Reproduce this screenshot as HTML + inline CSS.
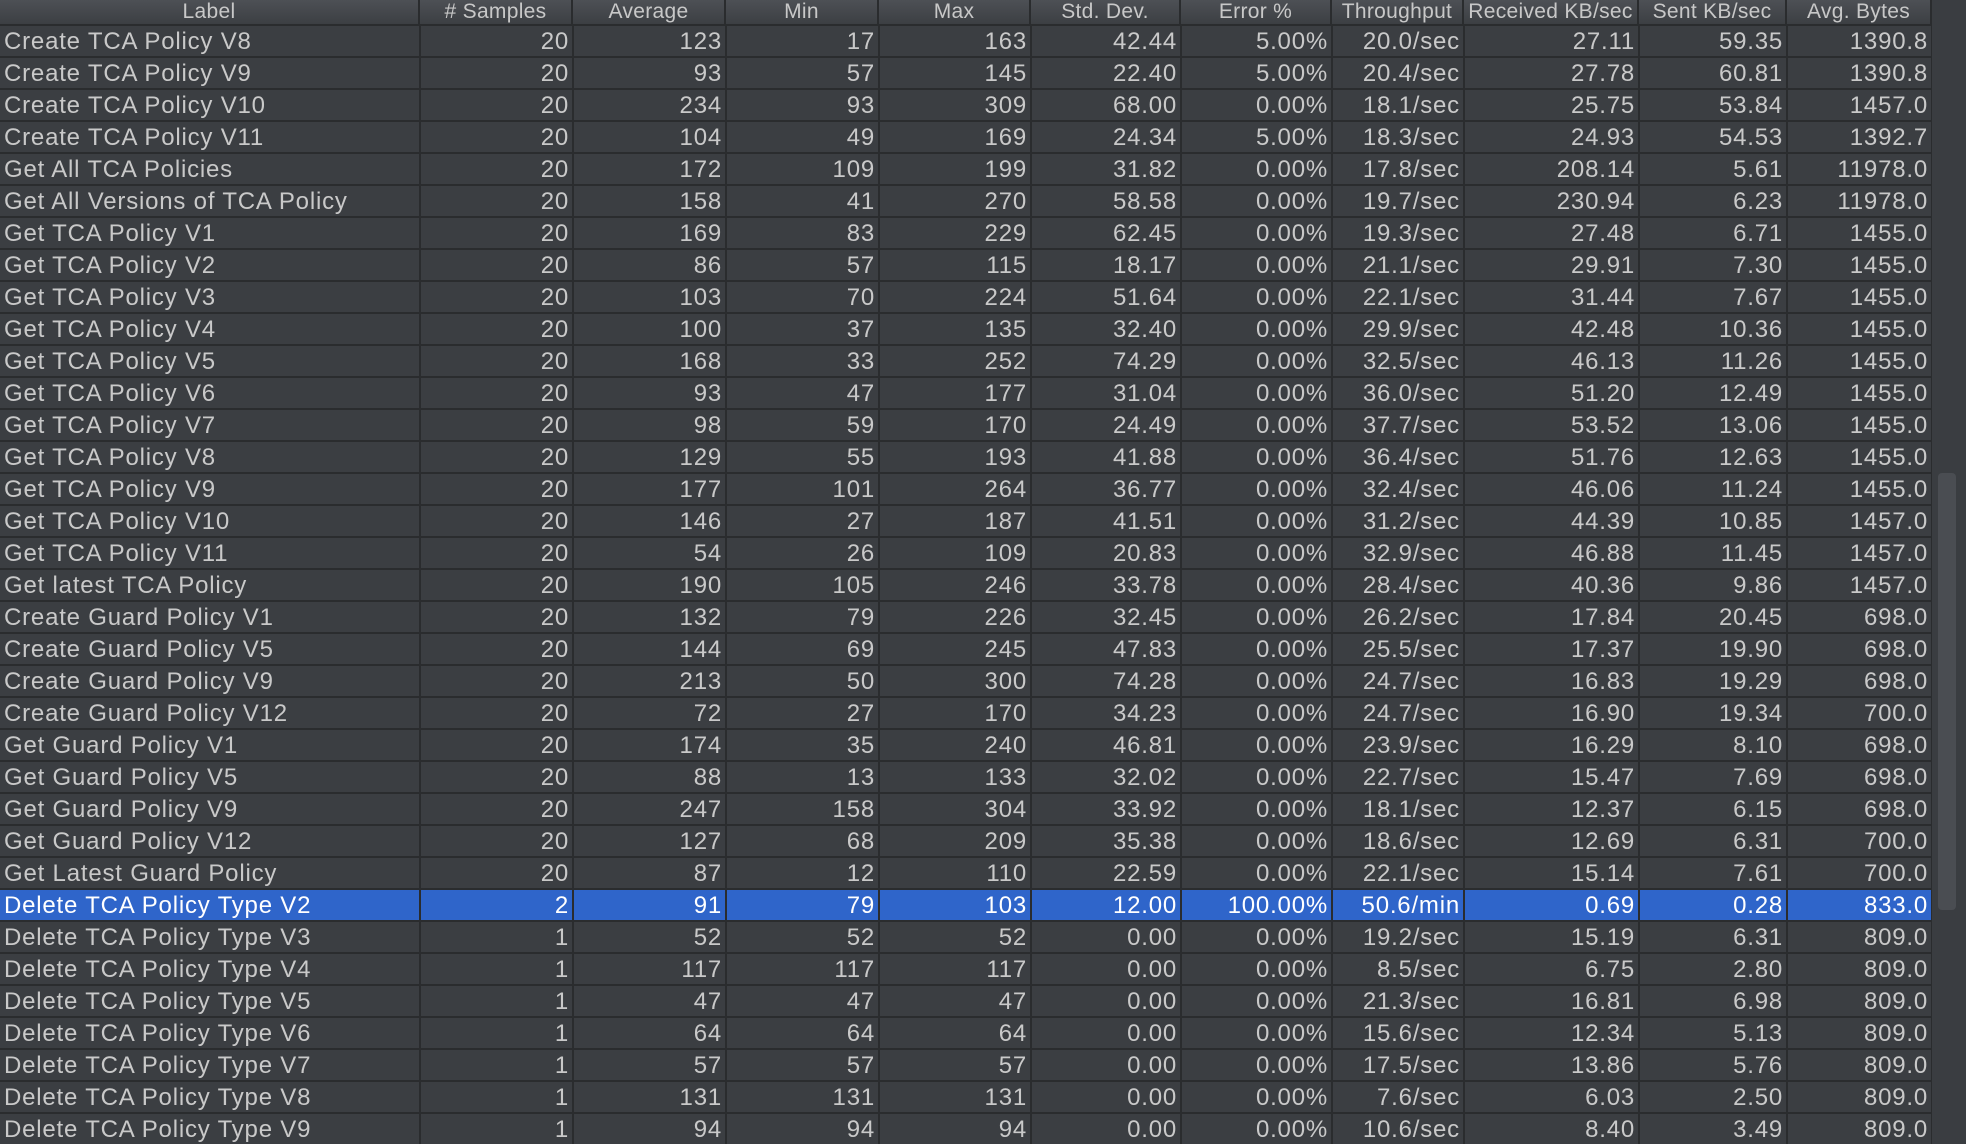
<!DOCTYPE html>
<html><head><meta charset="utf-8"><style>
html,body{margin:0;padding:0;width:1966px;height:1144px;overflow:hidden;background:#2b2d30;font-family:"Liberation Sans",sans-serif;}
#tbl{position:absolute;left:0;top:0;width:1932px;height:1144px;background:#2a2c2e;}
.h{position:absolute;top:0;height:24px;background:linear-gradient(#4d5055,#3c3f43);color:#c8c8c8;font-size:21px;line-height:24px;text-align:center;border-right:2px solid #2a2c2e;box-sizing:border-box;overflow:hidden;white-space:nowrap;letter-spacing:0.3px;}
.c{position:absolute;height:30px;background:#3b3e42;color:#c9c9c9;font-size:24px;letter-spacing:0.8px;line-height:31px;box-sizing:border-box;white-space:nowrap;overflow:hidden;padding:0 3px 0 4px;}
.r{text-align:right}
.sel{background:#2f65ca;color:#fff}
#sb{position:absolute;left:1932px;top:0;width:34px;height:1144px;background:#3a3d41;}
#thumb{position:absolute;left:1938px;top:473px;width:18px;height:437px;background:#4a4d52;border-radius:4px;}
</style></head><body>
<div id="tbl"></div>
<div id="sb"></div>
<div id="thumb"></div>
<script>
const headers=["Label","# Samples","Average","Min","Max","Std. Dev.","Error %","Throughput","Received KB/sec","Sent KB/sec","Avg. Bytes"];
const labels=["Create TCA Policy V8","Create TCA Policy V9","Create TCA Policy V10","Create TCA Policy V11","Get All TCA Policies","Get All Versions of TCA Policy","Get TCA Policy V1","Get TCA Policy V2","Get TCA Policy V3","Get TCA Policy V4","Get TCA Policy V5","Get TCA Policy V6","Get TCA Policy V7","Get TCA Policy V8","Get TCA Policy V9","Get TCA Policy V10","Get TCA Policy V11","Get latest TCA Policy","Create Guard Policy V1","Create Guard Policy V5","Create Guard Policy V9","Create Guard Policy V12","Get Guard Policy V1","Get Guard Policy V5","Get Guard Policy V9","Get Guard Policy V12","Get Latest Guard Policy","Delete TCA Policy Type V2","Delete TCA Policy Type V3","Delete TCA Policy Type V4","Delete TCA Policy Type V5","Delete TCA Policy Type V6","Delete TCA Policy Type V7","Delete TCA Policy Type V8","Delete TCA Policy Type V9"];
const samples=[20,20,20,20,20,20,20,20,20,20,20,20,20,20,20,20,20,20,20,20,20,20,20,20,20,20,20,2,1,1,1,1,1,1,1];
const averages=[123,93,234,104,172,158,169,86,103,100,168,93,98,129,177,146,54,190,132,144,213,72,174,88,247,127,87,91,52,117,47,64,57,131,94];
const mins=[17,57,93,49,109,41,83,57,70,37,33,47,59,55,101,27,26,105,79,69,50,27,35,13,158,68,12,79,52,117,47,64,57,131,94];
const maxs=[163,145,309,169,199,270,229,115,224,135,252,177,170,193,264,187,109,246,226,245,300,170,240,133,304,209,110,103,52,117,47,64,57,131,94];
const stddevs=["42.44","22.40","68.00","24.34","31.82","58.58","62.45","18.17","51.64","32.40","74.29","31.04","24.49","41.88","36.77","41.51","20.83","33.78","32.45","47.83","74.28","34.23","46.81","32.02","33.92","35.38","22.59","12.00","0.00","0.00","0.00","0.00","0.00","0.00","0.00"];
const errors=["5.00%","5.00%","0.00%","5.00%","0.00%","0.00%","0.00%","0.00%","0.00%","0.00%","0.00%","0.00%","0.00%","0.00%","0.00%","0.00%","0.00%","0.00%","0.00%","0.00%","0.00%","0.00%","0.00%","0.00%","0.00%","0.00%","0.00%","100.00%","0.00%","0.00%","0.00%","0.00%","0.00%","0.00%","0.00%"];
const throughputs=["20.0/sec","20.4/sec","18.1/sec","18.3/sec","17.8/sec","19.7/sec","19.3/sec","21.1/sec","22.1/sec","29.9/sec","32.5/sec","36.0/sec","37.7/sec","36.4/sec","32.4/sec","31.2/sec","32.9/sec","28.4/sec","26.2/sec","25.5/sec","24.7/sec","24.7/sec","23.9/sec","22.7/sec","18.1/sec","18.6/sec","22.1/sec","50.6/min","19.2/sec","8.5/sec","21.3/sec","15.6/sec","17.5/sec","7.6/sec","10.6/sec"];
const received=["27.11","27.78","25.75","24.93","208.14","230.94","27.48","29.91","31.44","42.48","46.13","51.20","53.52","51.76","46.06","44.39","46.88","40.36","17.84","17.37","16.83","16.90","16.29","15.47","12.37","12.69","15.14","0.69","15.19","6.75","16.81","12.34","13.86","6.03","8.40"];
const sent=["59.35","60.81","53.84","54.53","5.61","6.23","6.71","7.30","7.67","10.36","11.26","12.49","13.06","12.63","11.24","10.85","11.45","9.86","20.45","19.90","19.29","19.34","8.10","7.69","6.15","6.31","7.61","0.28","6.31","2.80","6.98","5.13","5.76","2.50","3.49"];
const avgBytes=["1390.8","1390.8","1457.0","1392.7","11978.0","11978.0","1455.0","1455.0","1455.0","1455.0","1455.0","1455.0","1455.0","1455.0","1455.0","1457.0","1457.0","1457.0","698.0","698.0","698.0","700.0","698.0","698.0","698.0","700.0","700.0","833.0","809.0","809.0","809.0","809.0","809.0","809.0","809.0"];
const selectedRow=27;
const colEdges=[0,420,573,726,879,1031,1181,1332,1464,1639,1787,1932];
const cols=[labels,samples,averages,mins,maxs,stddevs,errors,throughputs,received,sent,avgBytes];
const colNames=["label","samples","average","min","max","std-dev","error-pct","throughput","received-kb","sent-kb","avg-bytes"];
const tbl=document.getElementById('tbl');
headers.forEach((h,j)=>{
  const d=document.createElement('div');
  d.className='h';
  d.style.left=colEdges[j]+'px';d.style.width=(colEdges[j+1]-colEdges[j])+'px';
  d.textContent=h;
  
  
  tbl.appendChild(d);
});
const top0=26,rh=32;
labels.forEach((lab,i)=>{
  cols.forEach((arr,j)=>{
    const d=document.createElement('div');
    d.className='c'+(j>0?' r':'')+(i===selectedRow?' sel':'');
    d.style.left=(colEdges[j]+(j>0?1:0))+'px';
    d.style.width=(colEdges[j+1]-colEdges[j]-(j>0?2:1))+'px';
    d.style.top=(top0+i*rh)+'px';
    d.textContent=arr[i];
    
    
    tbl.appendChild(d);
  });
});
</script>
</body></html>
